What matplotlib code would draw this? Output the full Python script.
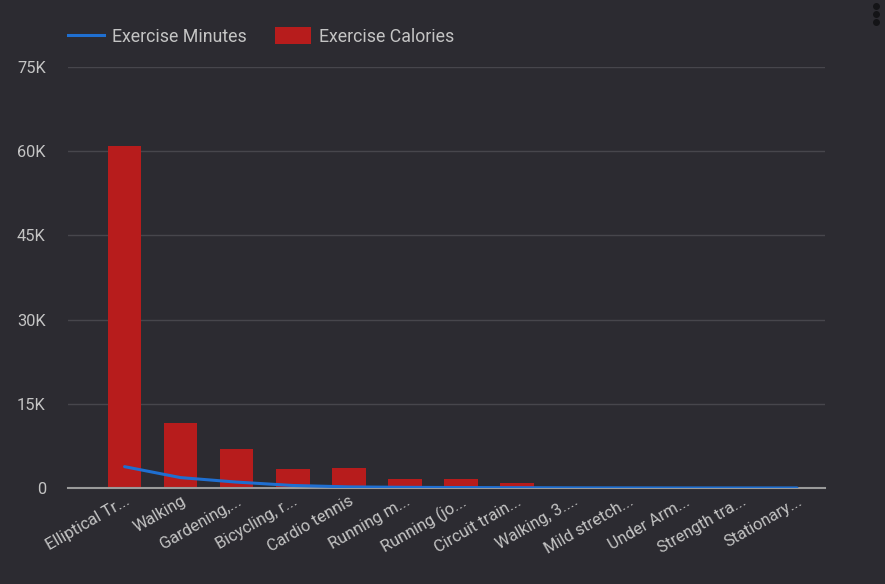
import matplotlib
matplotlib.use("Agg")
import matplotlib.pyplot as plt
import numpy as np
from matplotlib.lines import Line2D
from matplotlib.patches import Patch

categories = ["Elliptical Tr...", "Walking", "Gardening,...", "Bicycling, r...", "Cardio tennis",
              "Running m...", "Running (jo...", "Circuit train...", "Walking, 3....",
              "Mild stretch...", "Under Arm...", "Strength tra...", "Stationary..."]
calories = [60900, 11600, 6950, 3400, 3550, 1600, 1600, 850, 0, 0, 0, 0, 0]
minutes = [3800, 1850, 1050, 450, 200, 120, 80, 60, 30, 20, 10, 10, 10]
yticks = [0, 15000, 30000, 45000, 60000, 75000]
ytick_labels = ["0", "15K", "30K", "45K", "60K", "75K"]

BG = "#2c2b31"
TXT = "#c4c4c4"
plt.rcParams['font.family'] = ['Roboto', 'DejaVu Sans']

fig = plt.figure(figsize=(8.85, 5.84), dpi=100, facecolor=BG)
ax = fig.add_axes([68/885, 1-488/584, 757/885, 421/584], facecolor=BG)

x = np.arange(len(categories))
ax.bar(x, calories, width=0.6, color="#b71c1c", zorder=2)
ax.plot(x, minutes, color="#1f6fd1", lw=2.2, zorder=3, solid_capstyle='round')

ax.set_xlim(-1.01, 12.5)
ax.set_ylim(0, 75000)
ax.set_yticks(yticks)
ax.set_yticklabels(ytick_labels)
ax.yaxis.grid(True, color="#47464c", lw=1, zorder=0)
ax.set_axisbelow(True)
for s in ["top", "right", "left"]:
    ax.spines[s].set_visible(False)
ax.spines["bottom"].set_color("#9a9a9a")
ax.spines["bottom"].set_linewidth(1.5)
ax.tick_params(axis='y', length=0, pad=16, labelsize=11.8, labelcolor=TXT)
ax.tick_params(axis='x', length=0, pad=4, labelsize=11.8, labelcolor=TXT)
ax.set_xticks(x)
ax.set_xticklabels(categories, rotation=30, ha='right', rotation_mode='anchor')

handles = [Line2D([0], [0], color="#1f6fd1", lw=2.2),
           Patch(facecolor="#b71c1c")]
leg = fig.legend(handles, ["Exercise Minutes", "Exercise Calories"], loc='center left',
                 bbox_to_anchor=(54/885, 1-36.5/584), ncol=2, frameon=False,
                 fontsize=12.8, labelcolor=TXT, handlelength=2.0, handleheight=1.1,
                 columnspacing=1.6, handletextpad=0.45, borderpad=0.3)

dots = Line2D([876/885]*3, [1-6/584, 1-14/584, 1-22/584], transform=fig.transFigure,
              linestyle='none', marker='o', markersize=4, color="#141417")
fig.add_artist(dots)

fig.savefig("out.png", dpi=100, facecolor=BG)
